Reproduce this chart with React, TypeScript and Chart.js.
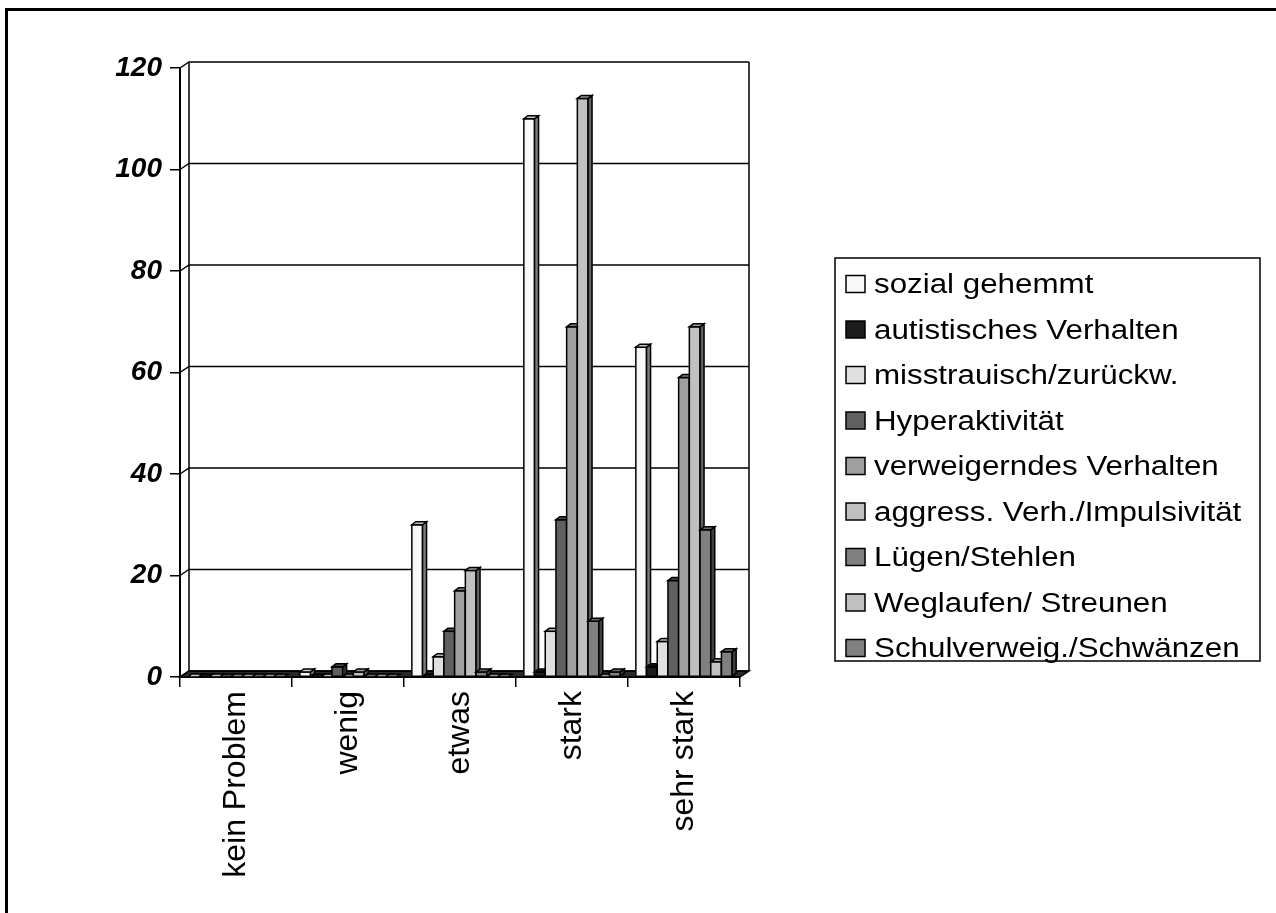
import React, { useEffect, useRef } from "react";
import { Chart, registerables } from "chart.js";

Chart.register(...registerables);

const categories = ["kein Problem", "wenig", "etwas", "stark", "sehr stark"];
const seriesNames = [
  "sozial gehemmt",
  "autistisches Verhalten",
  "misstrauisch/zurückw.",
  "Hyperaktivität",
  "verweigerndes Verhalten",
  "aggress. Verh./Impulsivität",
  "Lügen/Stehlen",
  "Weglaufen/ Streunen",
  "Schulverweig./Schwänzen",
];
const sozialGehemmt = [0, 1, 30, 110, 65];
const autistisch = [0, 0, 0, 1, 2];
const misstrauisch = [0, 0, 4, 9, 7];
const hyperaktivitaet = [0, 2, 9, 31, 19];
const verweigernd = [0, 0, 17, 69, 59];
const aggressiv = [0, 1, 21, 114, 69];
const luegenStehlen = [0, 0, 1, 11, 29];
const weglaufen = [0, 0, 0, 0, 3];
const schulverweig = [0, 0, 0, 1, 5];
const seriesValues = [
  sozialGehemmt,
  autistisch,
  misstrauisch,
  hyperaktivitaet,
  verweigernd,
  aggressiv,
  luegenStehlen,
  weglaufen,
  schulverweig,
];
const seriesColors = [
  "#f8f8f8",
  "#1c1c1c",
  "#e0e0e0",
  "#606060",
  "#a0a0a0",
  "#c0c0c0",
  "#808080",
  "#c0c0c0",
  "#808080",
];
const yTicks = [0, 20, 40, 60, 80, 100, 120];

const FONT = "'Liberation Sans', Arial, sans-serif";
const WALL_DX = 9;
const WALL_DY = -6;
const BAR_DX = 4;
const BAR_DY = -3;

function shade(hex: string, f: number) {
  const n = parseInt(hex.slice(1), 16);
  const r = Math.round(((n >> 16) & 255) * f);
  const g = Math.round(((n >> 8) & 255) * f);
  const b = Math.round((n & 255) * f);
  return `rgb(${r},${g},${b})`;
}

const wallPlugin = {
  id: "wall3d",
  beforeDatasetsDraw(chart: any) {
    const { ctx, chartArea } = chart;
    const { left, right, top, bottom } = chartArea;
    const y = chart.scales.y;
    ctx.save();
    ctx.beginPath();
    ctx.moveTo(left, bottom);
    ctx.lineTo(right, bottom);
    ctx.lineTo(right + WALL_DX, bottom + WALL_DY);
    ctx.lineTo(left + WALL_DX, bottom + WALL_DY);
    ctx.closePath();
    ctx.fillStyle = "#2a2a2a";
    ctx.fill();
    ctx.strokeStyle = "#000";
    ctx.lineWidth = 1.5;
    ctx.stroke();
    yTicks.forEach((v) => {
      const py = y.getPixelForValue(v);
      ctx.beginPath();
      ctx.moveTo(left, py);
      ctx.lineTo(left + WALL_DX, py + WALL_DY);
      ctx.lineTo(right + WALL_DX, py + WALL_DY);
      ctx.stroke();
    });
    ctx.beginPath();
    ctx.moveTo(left + WALL_DX, top + WALL_DY);
    ctx.lineTo(left + WALL_DX, bottom + WALL_DY);
    ctx.moveTo(right + WALL_DX, top + WALL_DY);
    ctx.lineTo(right + WALL_DX, bottom + WALL_DY);
    ctx.stroke();
    ctx.restore();
  },
  afterDatasetsDraw(chart: any) {
    const { ctx } = chart;
    ctx.save();
    ctx.strokeStyle = "#000";
    ctx.lineWidth = 1.5;
    ctx.lineJoin = "miter";
    chart.data.datasets.forEach((ds: any, i: number) => {
      const meta = chart.getDatasetMeta(i);
      const color = seriesColors[i];
      meta.data.forEach((el: any) => {
        const p = el.getProps(["x", "y", "base", "width"], true);
        const l = p.x - p.width / 2;
        const r = p.x + p.width / 2;
        const t = Math.min(p.y, p.base);
        const b = p.base;
        ctx.fillStyle = color;
        ctx.fillRect(l, t, r - l, b - t);
        if (b - t > 0.5) ctx.strokeRect(l, t, r - l, b - t);
        ctx.beginPath();
        ctx.moveTo(r, t);
        ctx.lineTo(r + BAR_DX, t + BAR_DY);
        ctx.lineTo(r + BAR_DX, b + BAR_DY);
        ctx.lineTo(r, b);
        ctx.closePath();
        ctx.fillStyle = shade(color, 0.5);
        ctx.fill();
        ctx.stroke();
        ctx.beginPath();
        ctx.moveTo(l, t);
        ctx.lineTo(l + BAR_DX, t + BAR_DY);
        ctx.lineTo(r + BAR_DX, t + BAR_DY);
        ctx.lineTo(r, t);
        ctx.closePath();
        ctx.fillStyle = shade(color, 0.8);
        ctx.fill();
        ctx.stroke();
      });
    });
    ctx.restore();
  },
};

const legendPlugin = {
  id: "boxLegend",
  afterDraw(chart: any) {
    const { ctx } = chart;
    ctx.save();
    ctx.strokeStyle = "#000";
    ctx.lineWidth = 1.5;
    ctx.strokeRect(835, 258, 425, 403);
    ctx.font = `27px ${FONT}`;
    ctx.textBaseline = "middle";
    ctx.textAlign = "left";
    chart.data.datasets.forEach((ds: any, i: number) => {
      const cy = 284 + i * 45.5;
      ctx.fillStyle = seriesColors[i];
      ctx.fillRect(846, cy - 8.5, 19, 17);
      ctx.strokeStyle = "#000";
      ctx.lineWidth = 1.5;
      ctx.strokeRect(846, cy - 8.5, 19, 17);
      ctx.fillStyle = "#000";
      ctx.save();
      ctx.translate(874, cy + 2);
      ctx.scale(1.16, 1);
      ctx.fillText(ds.label, 0, 0);
      ctx.restore();
    });
    ctx.restore();
  },
};

export default function App() {
  const canvasRef = useRef<HTMLCanvasElement | null>(null);

  useEffect(() => {
    if (!canvasRef.current) return;
    const chart = new Chart(canvasRef.current, {
      type: "bar",
      data: {
        labels: categories,
        datasets: seriesNames.map((name, i) => ({
          label: name,
          data: seriesValues[i],
          backgroundColor: seriesColors[i],
          borderColor: "#000",
          borderWidth: 1,
          categoryPercentage: 0.86,
          barPercentage: 1,
        })),
      },
      options: {
        responsive: false,
        animation: false,
        devicePixelRatio: 1,
        layout: { padding: { left: 0, right: 536, top: 68, bottom: 0 } },
        plugins: {
          legend: { display: false },
          tooltip: { enabled: false },
        },
        scales: {
          x: {
            offset: true,
            grid: {
              offset: true,
              drawOnChartArea: false,
              drawTicks: true,
              tickLength: 10,
              color: "#000",
              lineWidth: 1.5,
            },
            border: { display: true, color: "#000", width: 2 },
            ticks: {
              autoSkip: false,
              maxRotation: 90,
              minRotation: 90,
              padding: 4,
              color: "#000",
              font: { family: FONT, size: 32 },
            },
            afterFit: (scale: any) => {
              scale.height = 913 - 677;
            },
          },
          y: {
            min: 0,
            max: 120,
            ticks: {
              stepSize: 20,
              padding: 8,
              color: "#000",
              font: { family: FONT, size: 28, weight: "bold", style: "italic" },
            },
            grid: {
              drawOnChartArea: false,
              drawTicks: true,
              tickLength: 10,
              color: "#000",
              lineWidth: 1.5,
            },
            border: { display: true, color: "#000", width: 2 },
            afterFit: (scale: any) => {
              scale.width = 180;
            },
          },
        },
      },
      plugins: [wallPlugin, legendPlugin],
    });
    return () => chart.destroy();
  }, []);

  return (
    <div>
      <div
        style={{
          position: "fixed",
          left: 5,
          top: 8,
          width: 1300,
          height: 940,
          border: "3px solid #000",
          boxSizing: "border-box",
        }}
      />
      <canvas
        ref={canvasRef}
        width={1276}
        height={913}
        style={{ position: "fixed", left: 0, top: 0, width: 1276, height: 913 }}
      />
    </div>
  );
}
